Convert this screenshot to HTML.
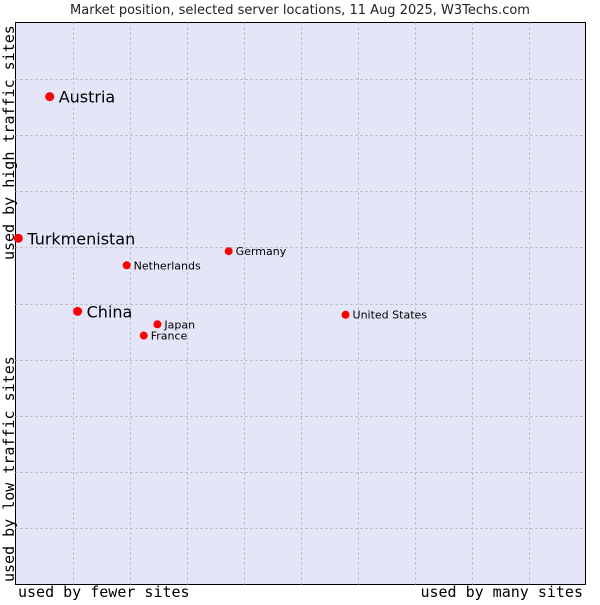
<!DOCTYPE html>
<html><head><meta charset="utf-8"><style>
body{margin:0;background:#fff;width:600px;height:600px;overflow:hidden}
text{font-family:"DejaVu Sans","Liberation Sans",sans-serif}
.mono{font-family:"DejaVu Sans Mono","Liberation Mono",monospace}
</style></head><body>
<svg id="chart" width="600" height="600">
<rect x="15.5" y="22.5" width="570" height="562" fill="#e4e6f8" stroke="#000"/>
<g id="grid"></g>
<text x="300" y="14" font-size="13" text-anchor="middle" fill="#222">Market position, selected server locations, 11 Aug 2025, W3Techs.com</text>
<text class="mono" x="18" y="597" font-size="15" fill="#000">used by fewer sites</text>
<text class="mono" x="583" y="597" font-size="15" text-anchor="end" fill="#000">used by many sites</text>
<text class="mono" transform="translate(14,582) rotate(-90)" font-size="15" fill="#000">used by low traffic sites</text>
<text class="mono" transform="translate(14,260) rotate(-90)" font-size="15" fill="#000">used by high traffic sites</text>
<g id="points"></g>
</svg>
<script>
const names=["Austria","Turkmenistan","China","Netherlands","Germany","Japan","France","United States"];
const xVals=[6.0,0.5,10.9,19.5,37.4,24.9,22.5,57.9];
const yVals=[86.8,61.6,48.6,56.8,59.3,46.3,44.3,48.0];
const big=[true,true,true,false,false,false,false,false];
const L=15.5,T=22.5,W=570,H=562;
const sx=v=>L+v/100*W, sy=v=>T+H-v/100*H;
const NS="http://www.w3.org/2000/svg";
const g=document.getElementById('grid');
for(let i=1;i<10;i++){
 const v=document.createElementNS(NS,'line');
 v.setAttribute('x1',Math.round(sx(i*10))+0.5);v.setAttribute('x2',Math.round(sx(i*10))+0.5);
 v.setAttribute('y1',T);v.setAttribute('y2',T+H);
 v.setAttribute('stroke','#b4b4b4');v.setAttribute('stroke-dasharray','2,3');
 
 
 g.appendChild(v);
 const h=document.createElementNS(NS,'line');
 h.setAttribute('y1',Math.round(sy(i*10))+0.5);h.setAttribute('y2',Math.round(sy(i*10))+0.5);
 h.setAttribute('x1',L);h.setAttribute('x2',L+W);
 h.setAttribute('stroke','#b4b4b4');h.setAttribute('stroke-dasharray','2,3');
 
 
 g.appendChild(h);
}
const p=document.getElementById('points');
names.forEach((n,i)=>{
 const x=sx(xVals[i]),y=sy(yVals[i]);
 const c=document.createElementNS(NS,'circle');
 c.setAttribute('cx',x);c.setAttribute('cy',y);c.setAttribute('r',big[i]?4.5:4);c.setAttribute('fill','#f00');
 
 
 p.appendChild(c);
 const t=document.createElementNS(NS,'text');
 t.setAttribute('x',x+(big[i]?9:7));t.setAttribute('y',y+(big[i]?6:4));
 t.setAttribute('font-size',big[i]?16:11);t.setAttribute('fill','#000');
 t.textContent=n;
 
 
 p.appendChild(t);
});
</script>
</body></html>
